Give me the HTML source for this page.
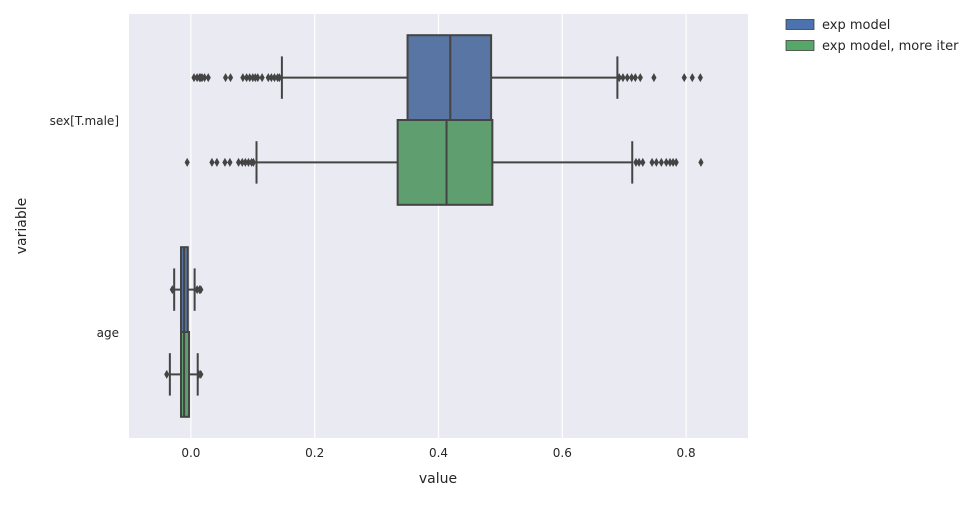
<!DOCTYPE html>
<html><head><meta charset="utf-8"><style>
body{margin:0;background:#fff;}
svg{font-family:"DejaVu Sans","Liberation Sans",sans-serif;}
</style></head><body>
<svg id="chart" width="980" height="504" xmlns="http://www.w3.org/2000/svg">
<rect x="129" y="14" width="619" height="424" fill="#EAEAF2"/>
<g id="grid"></g>
<g id="marks"></g>
<g id="axes"></g>
<text x="438" y="483" font-size="14" fill="#262626" text-anchor="middle">value</text>
<text transform="translate(26,226) rotate(-90)" font-size="14" fill="#262626" text-anchor="middle">variable</text>
<g>
<g>
<rect x="786" y="19.5" width="28" height="10" fill="#4C72B0" stroke="#3f3f3f" stroke-width="0.8"/>
<text x="822" y="29" font-size="13" fill="#262626">exp model</text></g>
<g>
<rect x="786" y="40.5" width="28" height="10" fill="#55A868" stroke="#3f3f3f" stroke-width="0.8"/>
<text x="822" y="50" font-size="13" fill="#262626">exp model, more iter</text></g>
</g>
</svg>
<script>
const categories = ["sex[T.male]", "age"];
const seriesNames = ["exp model", "exp model, more iter"];
const seriesColors = ["#5875A4", "#5F9E6E"];
const xTicks = [0.0, 0.2, 0.4, 0.6, 0.8];
const xTickLabels = ["0.0", "0.2", "0.4", "0.6", "0.8"];
// [whiskerLow, q1, median, q3, whiskerHigh] per category
const expModelStats = [[0.147, 0.350, 0.419, 0.485, 0.689], [-0.027, -0.016, -0.011, -0.005, 0.006]];
const moreIterStats = [[0.106, 0.334, 0.413, 0.487, 0.713], [-0.034, -0.016, -0.011, -0.003, 0.011]];
const expModelOutliers = [
  [0.005,0.010,0.014,0.016,0.018,0.022,0.028,0.056,0.064,0.084,0.090,0.095,0.100,0.104,0.108,0.115,0.125,0.130,0.135,0.140,0.143,0.692,0.698,0.705,0.712,0.718,0.726,0.748,0.797,0.810,0.823],
  [-0.030,0.010,0.014,0.016]];
const moreIterOutliers = [
  [-0.006,0.034,0.042,0.055,0.063,0.077,0.083,0.088,0.093,0.098,0.101,0.719,0.724,0.730,0.745,0.752,0.760,0.768,0.774,0.779,0.784,0.824],
  [-0.039,0.013,0.016]];

const svgNS = "http://www.w3.org/2000/svg";
const X0 = 129, X1 = 748, Y0 = 14, Y1 = 438, xmin = -0.1, xmax = 0.9;
function xs(v){ return X0 + (v - xmin) / (xmax - xmin) * (X1 - X0); }
const band = (Y1 - Y0) / categories.length;
function yc(i){ return Y0 + band * (i + 0.5); }
function mk(tag, attrs, parent){
  const e = document.createElementNS(svgNS, tag);
  for (const k in attrs) e.setAttribute(k, attrs[k]);
  parent.appendChild(e); return e;
}
const grid = document.getElementById('grid');
const axes = document.getElementById('axes');
const marks = document.getElementById('marks');
xTicks.forEach((t, i) => {
  const l = mk('line', {x1: xs(t), x2: xs(t), y1: Y0, y2: Y1, stroke: '#fff', 'stroke-width': 1.2}, grid);
  
  
  const tx = mk('text', {x: xs(t), y: Y1 + 19, 'font-size': 12, fill: '#262626', 'text-anchor': 'middle'}, axes);
  tx.textContent = xTickLabels[i];
  
  
});
categories.forEach((c, i) => {
  const tx = mk('text', {x: 119, y: yc(i) + 5, 'font-size': 12, fill: '#262626', 'text-anchor': 'end'}, axes);
  tx.textContent = c;
  
  
});
const allStats = [expModelStats, moreIterStats];
const allOut = [expModelOutliers, moreIterOutliers];
const boxH = band * 0.8 / 2;
const gray = '#444';
allStats.forEach((stats, s) => {
  stats.forEach((st, i) => {
    const cy = yc(i) - band * 0.4 + boxH * (s + 0.5);
    const g = mk('g', {}, marks);
    
    
    mk('line', {x1: xs(st[0]), x2: xs(st[1]), y1: cy, y2: cy, stroke: gray, 'stroke-width': 2}, g);
    mk('line', {x1: xs(st[3]), x2: xs(st[4]), y1: cy, y2: cy, stroke: gray, 'stroke-width': 2}, g);
    [st[0], st[4]].forEach(v => mk('line', {x1: xs(v), x2: xs(v), y1: cy - boxH / 4, y2: cy + boxH / 4, stroke: gray, 'stroke-width': 2}, g));
    mk('rect', {x: xs(st[1]), y: cy - boxH / 2, width: xs(st[3]) - xs(st[1]), height: boxH, fill: seriesColors[s], stroke: gray, 'stroke-width': 2}, g);
    mk('line', {x1: xs(st[2]), x2: xs(st[2]), y1: cy - boxH / 2, y2: cy + boxH / 2, stroke: gray, 'stroke-width': 2}, g);
    allOut[s][i].forEach(v => {
      const x = xs(v);
      const d = mk('path', {d: `M${x-2.6},${cy} L${x},${cy-4.5} L${x+2.6},${cy} L${x},${cy+4.5} Z`, fill: gray}, g);
      
      
    });
  });
});
</script>
</body></html>
